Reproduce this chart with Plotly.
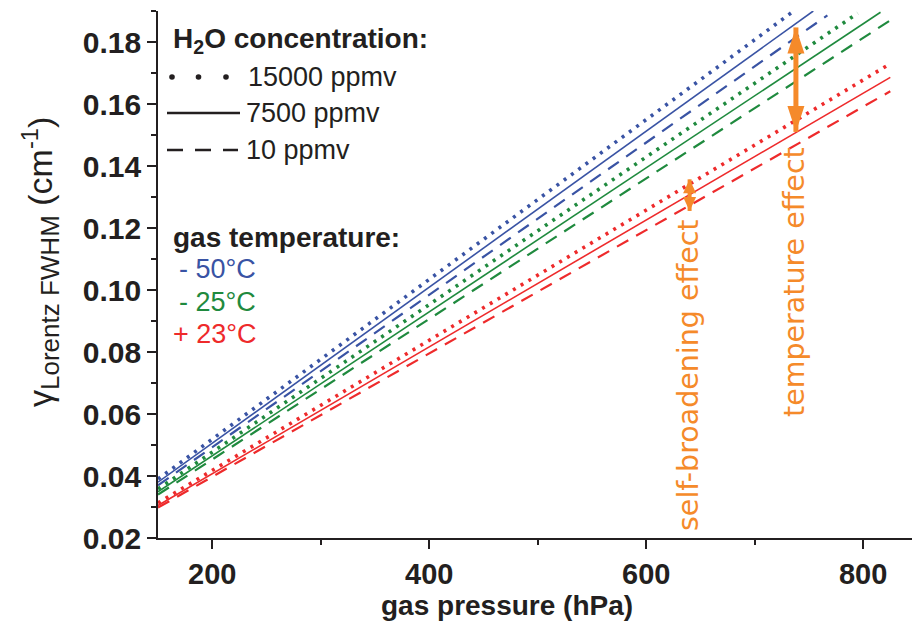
import plotly.graph_objects as go

# ---------------- data ----------------
concentrations = ["15000 ppmv", "7500 ppmv", "10 ppmv"]
temperatures = ["- 50°C", "- 25°C", "+ 23°C"]

pressure_start = [150, 150, 150]
# order inside each list: 15000 ppmv, 7500 ppmv, 10 ppmv
gamma_start_m50 = [0.0390, 0.0380, 0.0370]
gamma_start_m25 = [0.0358, 0.0349, 0.0340]
gamma_start_p23 = [0.0313, 0.0305, 0.0298]

pressure_end_m50 = [736, 754, 767]
pressure_end_m25 = [795, 816, 825]
pressure_end_p23 = [824, 825, 825]

gamma_end_m50 = [0.1900, 0.1900, 0.1886]
gamma_end_m25 = [0.1893, 0.1896, 0.1870]
gamma_end_p23 = [0.1728, 0.1686, 0.1641]

temp_arrow_pressure = 738
temp_arrow_gamma = [0.1510, 0.1847]
self_arrow_pressure = 640
self_arrow_gamma = [0.1255, 0.1357]

x_ticks = [200, 400, 600, 800]
y_ticks = [0.02, 0.04, 0.06, 0.08, 0.10, 0.12, 0.14, 0.16, 0.18]

# ---------------- styles ----------------
W, H = 912, 628
ML, MR, MT, MB = 158, 0, 11, 90
PW, PH = W - ML - MR, H - MT - MB

BLUE = "#3953A4"
GREEN = "#1F8A3E"
RED = "#EE2A2B"
ORANGE = "#F58A2A"
INK = "#231F20"
FONT = "Liberation Sans"

line_styles = [
    dict(width=3.6, dash="3px,6px"),
    dict(width=1.6, dash="solid"),
    dict(width=2.2, dash="13px,9px"),
]


def px(x):
    return (x - ML) / PW


def py(y):
    return (H - MB - y) / PH


fig = go.Figure()

groups = [
    (BLUE, gamma_start_m50, pressure_end_m50, gamma_end_m50, temperatures[0]),
    (GREEN, gamma_start_m25, pressure_end_m25, gamma_end_m25, temperatures[1]),
    (RED, gamma_start_p23, pressure_end_p23, gamma_end_p23, temperatures[2]),
]
for color, g0, p1, g1, tname in groups:
    for i in range(3):
        fig.add_trace(go.Scatter(
            x=[pressure_start[i], p1[i]], y=[g0[i], g1[i]],
            mode="lines", name=f"{tname} {concentrations[i]}",
            line=dict(color=color, **line_styles[i]),
            showlegend=False, hoverinfo="skip",
        ))

shapes = []
annotations = []

# ----- arrows -----
def add_arrow(p, g, head_w, head_l, shaft_w):
    shapes.append(dict(type="line", xref="x", yref="y", x0=p, x1=p,
                       y0=g[0], y1=g[1], line=dict(color=ORANGE, width=shaft_w)))
    hw = head_w / 2
    shapes.append(dict(type="path", xref="x", yref="y", xsizemode="pixel",
                       ysizemode="pixel", xanchor=p, yanchor=g[1],
                       path=f"M0,0 L{-hw},{-head_l} L{hw},{-head_l} Z",
                       fillcolor=ORANGE, line=dict(width=0)))
    shapes.append(dict(type="path", xref="x", yref="y", xsizemode="pixel",
                       ysizemode="pixel", xanchor=p, yanchor=g[0],
                       path=f"M0,0 L{-hw},{head_l} L{hw},{head_l} Z",
                       fillcolor=ORANGE, line=dict(width=0)))


add_arrow(temp_arrow_pressure, temp_arrow_gamma, 17, 26, 5)
add_arrow(self_arrow_pressure, self_arrow_gamma, 13, 14, 4)

annotations.append(dict(text="temperature effect", xref="paper", yref="paper",
                        x=px(795), y=py(282), textangle=-90, showarrow=False,
                        xanchor="center", yanchor="middle",
                        font=dict(family="DejaVu Sans", size=28.5, color=ORANGE)))
annotations.append(dict(text="self-broadening effect", xref="paper", yref="paper",
                        x=px(688), y=py(375), textangle=-90, showarrow=False,
                        xanchor="center", yanchor="middle",
                        font=dict(family="DejaVu Sans", size=28.5, color=ORANGE)))

# ----- custom legend -----
def label(text, x, y, size=27, color=INK, bold=False):
    annotations.append(dict(text=text, xref="paper", yref="paper", x=px(x), y=py(y),
                            xanchor="left", yanchor="middle", showarrow=False,
                            font=dict(family=FONT, size=size, color=color,
                                      weight="bold" if bold else "normal")))


label("H<sub>2</sub>O concentration:", 171, 40, size=28, bold=True)
label(concentrations[0], 246, 77)
label(concentrations[1], 244, 113)
label(concentrations[2], 244, 150)
label("gas temperature:", 171, 237, size=28, bold=True)
label(temperatures[0], 177, 269, color=BLUE)
label(temperatures[1], 177, 302, color=GREEN)
label(temperatures[2], 171, 334, color=RED)

# dotted sample: three round dots
for dot_x in (172, 198.5, 226):
    shapes.append(dict(type="circle", xref="paper", yref="paper",
                       xsizemode="pixel", ysizemode="pixel",
                       xanchor=px(dot_x), yanchor=py(77),
                       x0=-2.8, x1=2.8, y0=-2.8, y1=2.8,
                       fillcolor=INK, line=dict(width=0)))
shapes.append(dict(type="line", xref="paper", yref="paper", x0=px(167), x1=px(240),
                   y0=py(113), y1=py(113), line=dict(color=INK, width=2.6)))
shapes.append(dict(type="line", xref="paper", yref="paper", x0=px(167), x1=px(238),
                   y0=py(150), y1=py(150), line=dict(color=INK, width=2.6, dash="16px,12px")))

# ----- axis titles -----
annotations.append(dict(text="gas pressure (hPa)", xref="paper", yref="paper",
                        x=px(507), y=py(605), showarrow=False, xanchor="center",
                        yanchor="middle",
                        font=dict(family=FONT, size=28, color=INK, weight="bold")))
annotations.append(dict(
    text="γ<sub><span style='font-size:26px'>Lorentz FWHM</span></sub> (cm<sup>-1</sup>)",
    xref="paper", yref="paper", x=px(40), y=py(262), textangle=-90, showarrow=False,
    xanchor="center", yanchor="middle",
    font=dict(family=FONT, size=34, color=INK)))

axis_common = dict(showline=True, linecolor=INK, linewidth=1.6, showgrid=False,
                   zeroline=False, ticks="outside", ticklen=9, tickwidth=1.6,
                   tickcolor=INK, mirror=False)

fig.update_layout(
    width=W, height=H,
    margin=dict(l=ML, r=MR, t=MT, b=MB, pad=0),
    paper_bgcolor="white", plot_bgcolor="white",
    showlegend=False,
    shapes=shapes, annotations=annotations,
    xaxis=dict(range=[150, 845], tickvals=x_ticks, ticktext=[str(v) for v in x_ticks],
               tickfont=dict(family=FONT, size=29, color=INK, weight="bold"),
               minor=dict(dtick=100, tick0=0, ticks="outside", ticklen=5,
                          tickwidth=1.6, tickcolor=INK),
               **axis_common),
    yaxis=dict(range=[0.02, 0.19], tickvals=y_ticks,
               ticktext=[f"{v:.2f}" for v in y_ticks],
               tickfont=dict(family=FONT, size=30, color=INK, weight="bold"),
               minor=dict(dtick=0.01, tick0=0, ticks="outside", ticklen=5,
                          tickwidth=1.6, tickcolor=INK),
               **axis_common),
)

fig.write_html("out.html")
